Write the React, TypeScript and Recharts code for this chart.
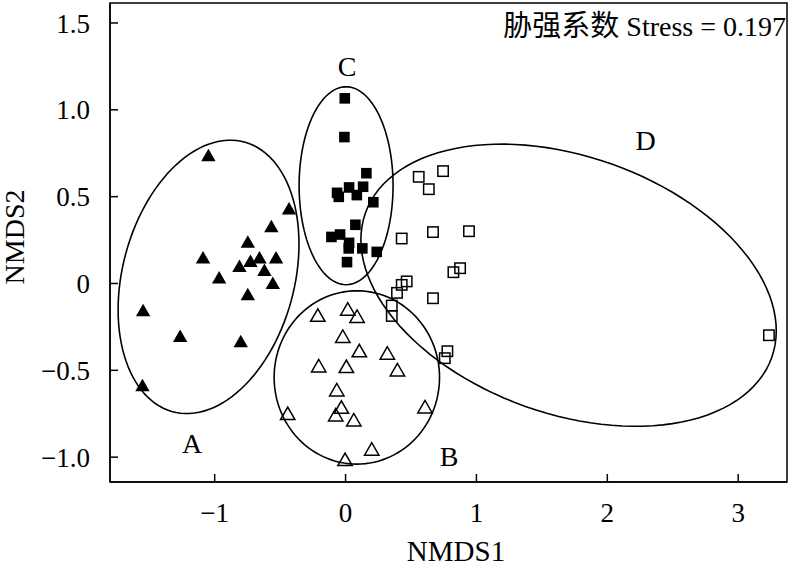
import React from "react";
import {
  ScatterChart,
  Scatter,
  XAxis,
  YAxis,
  ReferenceArea,
} from "recharts";

// NMDS scores, [NMDS1, NMDS2]
const groupA: [number, number][] = [
  [-1.048, 0.739], [-0.432, 0.432], [-0.567, 0.33], [-0.747, 0.24], [-1.089, 0.15],
  [-0.727, 0.13], [-0.658, 0.15], [-0.531, 0.15], [-0.811, 0.1], [-0.62, 0.077],
  [-0.966, 0.035], [-0.556, 0.003], [-0.747, -0.062], [-1.547, -0.154], [-1.264, -0.302],
  [-0.801, -0.332], [-1.552, -0.586],
];
const groupB: [number, number][] = [
  [-0.212, -0.183], [0.017, -0.148], [0.088, -0.19], [-0.021, -0.305], [0.105, -0.388],
  [0.319, -0.401], [-0.205, -0.475], [0.006, -0.478], [0.396, -0.498], [-0.067, -0.613],
  [-0.032, -0.713], [-0.075, -0.757], [0.063, -0.786], [-0.442, -0.749], [0.607, -0.711],
  [0.2, -0.954], [-0.004, -1.014],
];
const groupC: [number, number][] = [
  [-0.006, 1.066], [-0.009, 0.843], [0.159, 0.635], [0.027, 0.553], [0.134, 0.557],
  [-0.065, 0.522], [-0.052, 0.499], [0.086, 0.509], [0.212, 0.468], [0.075, 0.338],
  [-0.108, 0.268], [-0.042, 0.282], [0.027, 0.234], [0.024, 0.202], [0.128, 0.202],
  [0.238, 0.182], [0.011, 0.123],
];
const groupD: [number, number][] = [
  [0.559, 0.614], [0.745, 0.647], [0.636, 0.543], [0.429, 0.259], [0.668, 0.296],
  [0.943, 0.301], [0.875, 0.088], [0.824, 0.065], [0.467, 0.012], [0.429, -0.008],
  [0.393, -0.054], [0.668, -0.085], [0.353, -0.127], [0.353, -0.187], [0.778, -0.39],
  [0.758, -0.43], [3.235, -0.298],
];

// group ellipses: centre and two conjugate semi-axis vectors (data units)
const ellipseNames = ["A", "B", "C", "D"];
const ellipseCenters: [number, number][] = [[-1.047, 0.038], [0.086, -0.541], [0.004, 0.563], [1.704, -0.01]];
const ellipseU: [number, number][] = [[0.691, 0.189], [0.632, 0], [0.359, 0], [1.587, -0.262]];
const ellipseV: [number, number][] = [[0, 0.764], [0, 0.499], [0, 0.57], [0, 0.769]];

// group letters
const groupLabels = ["A", "B", "C", "D"];
const groupLabelPos: [number, number][] = [[-1.173, -0.92], [0.791, -0.995], [0.011, 1.248], [2.293, 0.825]];

const xTicks = [-1, 0, 1, 2, 3];
const yTicks = [-1, -0.5, 0, 0.5, 1, 1.5];
const xDomain: [number, number] = [-1.8, 3.373];
const yDomain: [number, number] = [-1.143, 1.615];

const FONT = "'Liberation Serif', 'Times New Roman', serif";

const toPts = (arr: [number, number][]) => arr.map(([x, y]) => ({ x, y }));

const ellipsePath = (i: number) => {
  const [cx, cy] = ellipseCenters[i];
  const [ux, uy] = ellipseU[i];
  const [vx, vy] = ellipseV[i];
  const pts = [];
  for (let k = 0; k <= 120; k++) {
    const t = (k / 120) * Math.PI * 2;
    pts.push({ x: cx + ux * Math.cos(t) + vx * Math.sin(t), y: cy + uy * Math.cos(t) + vy * Math.sin(t) });
  }
  return pts;
};

const fmtMinus = (s: string) => s.replace("-", "\u2212");

const FilledTriangle = (p: any) => (
  <polygon points={`${p.cx},${p.cy - 6.5} ${p.cx - 7.2},${p.cy + 6} ${p.cx + 7.2},${p.cy + 6}`} fill="#000" />
);
const OpenTriangle = (p: any) => (
  <polygon
    points={`${p.cx},${p.cy - 6.5} ${p.cx - 7.2},${p.cy + 6} ${p.cx + 7.2},${p.cy + 6}`}
    fill="none"
    stroke="#000"
    strokeWidth={1.5}
  />
);
const FilledSquare = (p: any) => <rect x={p.cx - 5.3} y={p.cy - 5.3} width={10.6} height={10.6} fill="#000" />;
const OpenSquare = (p: any) => (
  <rect x={p.cx - 5.2} y={p.cy - 5.2} width={10.4} height={10.4} fill="none" stroke="#000" strokeWidth={1.5} />
);
const Letter = (p: any) => (
  <text x={p.cx} y={p.cy} textAnchor="middle" dominantBaseline="central" fontFamily={FONT} fontSize={28} fill="#000">
    {p.payload.name}
  </text>
);
const NoDot = () => <g />;

export default function App() {
  const letters = groupLabels.map((name, i) => ({ name, x: groupLabelPos[i][0], y: groupLabelPos[i][1] }));
  return (
    <div style={{ position: "absolute", left: 0, top: 0, width: 800, height: 574, background: "#fff" }}>
      <ScatterChart width={800} height={574} margin={{ top: 3, right: 13, bottom: 0, left: 0 }}>
        <XAxis
          type="number"
          dataKey="x"
          domain={xDomain}
          allowDataOverflow
          ticks={xTicks}
          height={92}
          tickSize={-8}
          tickMargin={29}
          tickFormatter={(v) => fmtMinus(String(v))}
          axisLine={{ stroke: "#000", strokeWidth: 1.5 }}
          tickLine={{ stroke: "#000", strokeWidth: 1.5 }}
          tick={{ fill: "#000", fontSize: 27, fontFamily: FONT }}
          label={{
            content: () => (
              <text x={456} y={561} textAnchor="middle" fontFamily={FONT} fontSize={29} fill="#000">
                NMDS1
              </text>
            ),
          }}
        />
        <YAxis
          type="number"
          dataKey="y"
          domain={yDomain}
          allowDataOverflow
          ticks={yTicks}
          width={110}
          tickSize={-8}
          tickMargin={28}
          tickFormatter={(v) => fmtMinus(v === 0 ? "0" : Number(v).toFixed(1))}
          axisLine={{ stroke: "#000", strokeWidth: 1.5 }}
          tickLine={{ stroke: "#000", strokeWidth: 1.5 }}
          tick={{ fill: "#000", fontSize: 27, fontFamily: FONT }}
          label={{
            content: () => (
              <text
                x={24}
                y={237}
                textAnchor="middle"
                transform="rotate(-90, 24, 237)"
                fontFamily={FONT}
                fontSize={28}
                fill="#000"
              >
                NMDS2
              </text>
            ),
          }}
        />
        <ReferenceArea
          x1={xDomain[0]}
          x2={xDomain[1]}
          y1={yDomain[0]}
          y2={yDomain[1]}
          fill="none"
          fillOpacity={0}
          stroke="#000"
          strokeWidth={1.5}
          ifOverflow="visible"
        />
        {ellipseNames.map((n, i) => (
          <Scatter
            key={n}
            name={`ellipse ${n}`}
            data={ellipsePath(i)}
            line={{ stroke: "#000", strokeWidth: 1.6 }}
            lineType="joint"
            shape={NoDot}
            isAnimationActive={false}
          />
        ))}
        <Scatter name="A" data={toPts(groupA)} shape={FilledTriangle} isAnimationActive={false} />
        <Scatter name="B" data={toPts(groupB)} shape={OpenTriangle} isAnimationActive={false} />
        <Scatter name="C" data={toPts(groupC)} shape={FilledSquare} isAnimationActive={false} />
        <Scatter name="D" data={toPts(groupD)} shape={OpenSquare} isAnimationActive={false} />
        <Scatter name="labels" data={letters} shape={Letter} isAnimationActive={false} />
      </ScatterChart>
      <svg width={800} height={60} style={{ position: "absolute", left: 0, top: 0, pointerEvents: "none" }}>
        <text x={786} y={36} textAnchor="end" fontFamily={FONT} fontSize={28} fill="#000">
          <tspan fontFamily="'Noto Sans CJK SC', sans-serif" fontSize={29}>胁强系数</tspan> Stress = 0.197
        </text>
      </svg>
    </div>
  );
}
